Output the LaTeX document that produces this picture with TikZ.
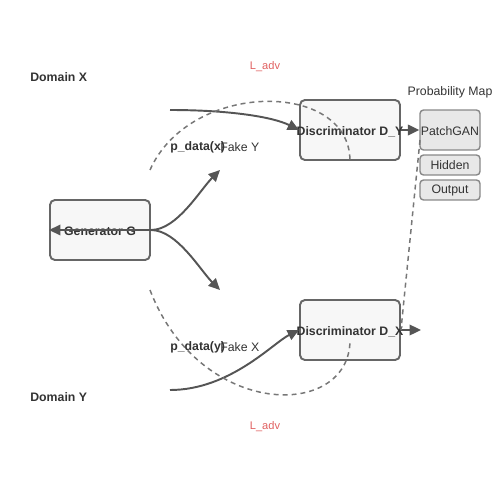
\documentclass[tikz,border=0pt]{standalone}
\usepackage{fontspec}
\setmainfont{Liberation Sans}
\usetikzlibrary{arrows.meta}
\definecolor{boxline}{HTML}{666666}
\definecolor{boxfill}{HTML}{F7F7F7}
\definecolor{edgecol}{HTML}{555555}
\definecolor{dashcol}{HTML}{777777}
\definecolor{txtcol}{HTML}{333333}
\definecolor{losscol}{HTML}{E06060}
\definecolor{mapfill}{HTML}{E8E8E8}
\definecolor{mapline}{HTML}{888888}
\tikzset{
	netbox/.style={draw=boxline, fill=boxfill, line width=1.1pt, rounded corners=2.8pt, minimum width=2cm, minimum height=1.2cm, inner sep=0pt},
	mapbox/.style={draw=mapline, fill=mapfill, line width=0.8pt, rounded corners=2pt, minimum width=1.2cm, inner sep=0pt},
	lbl/.style={text=txtcol, font=\fontsize{7}{8}\selectfont, inner sep=0pt},
	blbl/.style={lbl, font=\fontsize{7}{8}\selectfont\bfseries},
	loss/.style={text=losscol, font=\fontsize{6.3}{7.5}\selectfont, inner sep=0pt},
	flow/.style={draw=edgecol, line width=1.1pt, -{Triangle[length=6.5pt,width=6pt]}},
	cyc/.style={draw=dashcol, line width=0.85pt, dash pattern=on 2.8pt off 2.3pt},
}
\begin{document}
\begin{tikzpicture}[x=0.02cm, y=-0.02cm]
		\useasboundingbox (0,0) rectangle (500,500);
		\coordinate (xin) at (170,110);
		\coordinate (yin) at (170,390);
		\coordinate (fakeY) at (220,170);
		\coordinate (fakeX) at (220,290);
		\coordinate (dxout) at (421,330);
		\coordinate (cyctop) at (150,170);
		\coordinate (cycbot) at (150,290);
		\coordinate (cycbotend) at (350,340);
		\coordinate (patchlow) at (420,140);
		\node[netbox] (G) at (100,230) {};
		\node[netbox] (DY) at (350,130) {};
		\node[netbox] (DX) at (350,330) {};
		\node[mapbox, minimum height=0.8cm] (patch) at (450,130) {};
		\node[mapbox, minimum height=0.4cm] (hidden) at (450,165) {};
		\node[mapbox, minimum height=0.4cm] (output) at (450,190) {};
		\node[blbl, anchor=west] (domX) at (30,77) {Domain X};
		\node[blbl, anchor=west] (domY) at (30,397) {Domain Y};
		\node[loss] (advtop) at (265,67) {L\_adv};
		\node[loss] (advbot) at (265,427) {L\_adv};
		\node[lbl] (mapttl) at (450,92) {Probability Map};
		\node[blbl] (Gtxt) at (100,231.5) {Generator G};
		\node[blbl] (DYtxt) at (350,131.5) {Discriminator D\_Y};
		\node[blbl] (DXtxt) at (350,331.5) {Discriminator D\_X};
		\node[lbl] (patchtxt) at (450,131.5) {PatchGAN};
		\node[lbl] (hiddentxt) at (450,165) {Hidden};
		\node[lbl] (outputtxt) at (450,190) {Output};
		\node[blbl, anchor=west] (pdx) at (170,147) {p\_data(x)};
		\node[lbl, anchor=west] (fY) at (220,147) {Fake Y};
		\node[blbl, anchor=west] (pdy) at (170,347) {p\_data(y)};
		\node[lbl, anchor=west] (fX) at (220,347) {Fake X};
		\draw[flow] (xin) .. controls (230,110) and (273,117) .. (DY.west);
		\draw[flow] (G.east) .. controls (177,230) and (200,190) .. (fakeY);
		\draw[flow] (G.east) .. controls (177,230) and (200,270) .. (fakeX);
		\draw[flow] (yin) .. controls (230,390) and (273,343) .. (DX.west);
		\draw[flow] (G.east) -- (G.west);
		\draw[flow] (DY.east) -- (patch.west);
		\draw[flow] (DX.east) -- (dxout);
		\draw[cyc] (cyctop) .. controls (190,80) and (350,80) .. (DY.south);
		\draw[cyc] (cycbot) .. controls (200,420) and (350,420) .. (cycbotend);
		\draw[cyc] (patchlow) -- (DX.east);
	\end{tikzpicture}
\end{document}
